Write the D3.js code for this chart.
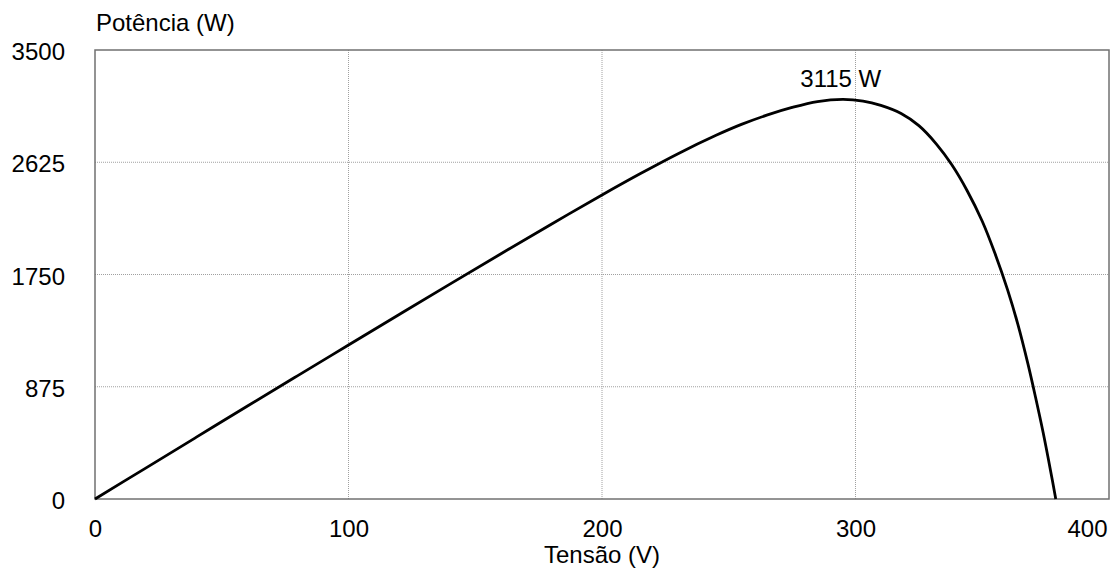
<!DOCTYPE html>
<html>
<head>
<meta charset="utf-8">
<script src="https://cdn.jsdelivr.net/npm/d3@7"></script>
<style>
  html, body { margin: 0; padding: 0; background: #fff; }
  svg { display: block; }
  text { font-family: "Liberation Sans", Arial, sans-serif; fill: #000; }
</style>
</head>
<body>
<svg id="chart" width="1116" height="571"></svg>
<script>
// ---- data ----
const voltage = [0, 20, 40, 60, 80, 100, 120, 140, 160, 180, 200, 215, 230, 245, 255, 265, 275, 285, 295, 303, 310, 318, 325, 332, 338, 344, 350, 355, 360, 364, 368, 371, 374, 377, 379];
const power   = [0, 241, 482, 723, 962, 1200, 1438, 1675, 1910, 2142, 2370, 2535, 2692, 2835, 2920, 2992, 3052, 3098, 3115, 3102, 3068, 3005, 2910, 2765, 2605, 2405, 2165, 1915, 1630, 1365, 1055, 795, 520, 215, 0];
const xTicks = [0, 100, 200, 300, 400];
const yTicks = [0, 875, 1750, 2625, 3500];
const peakLabel = "3115 W";
const peakV = 295, peakP = 3115;
const xTitle = "Tensão (V)";
const yTitle = "Potência (W)";

// ---- layout ----
const svg = d3.select("#chart");
const pLeft = 95, pRight = 1109, pTop = 50, pBottom = 499;
const x = d3.scaleLinear().domain([0, 400]).range([pLeft, pRight]);
const y = d3.scaleLinear().domain([0, 3500]).range([pBottom, pTop]);
const fs = 24;

// gridlines
svg.append("g").selectAll("line").data(xTicks.slice(1, -1)).join("line")
  .attr("x1", d => x(d)).attr("x2", d => x(d))
  .attr("y1", pTop).attr("y2", pBottom)
  .attr("stroke", "#a0a0a0").attr("stroke-width", 1).attr("stroke-dasharray", "1,1");
svg.append("g").selectAll("line").data(yTicks.slice(1, -1)).join("line")
  .attr("y1", d => y(d)).attr("y2", d => y(d))
  .attr("x1", pLeft).attr("x2", pRight)
  .attr("stroke", "#a0a0a0").attr("stroke-width", 1).attr("stroke-dasharray", "1,1");

// frame
svg.append("rect")
  .attr("x", pLeft).attr("y", pTop)
  .attr("width", pRight - pLeft).attr("height", pBottom - pTop)
  .attr("fill", "none").attr("stroke", "#707070").attr("stroke-width", 1.5);

// x axis
const xAxis = svg.append("g").attr("transform", `translate(0,${pBottom})`)
  .call(d3.axisBottom(x).tickValues(xTicks).tickSize(0).tickPadding(0).tickFormat(d3.format("d")));
xAxis.select(".domain").remove();
xAxis.selectAll("text")
  .attr("font-size", fs).attr("font-family", "Liberation Sans, Arial, sans-serif")
  .attr("fill", "#000").attr("dy", null).attr("y", 37.5);
xAxis.selectAll(".tick").filter(d => d === 400).select("text")
  .attr("text-anchor", "end").attr("x", -2);

// y axis
const yAxis = svg.append("g").attr("transform", `translate(${pLeft},0)`)
  .call(d3.axisLeft(y).tickValues(yTicks).tickSize(0).tickPadding(30).tickFormat(d3.format("d")));
yAxis.select(".domain").remove();
yAxis.selectAll("text")
  .attr("font-size", fs).attr("font-family", "Liberation Sans, Arial, sans-serif")
  .attr("fill", "#000").attr("dy", "0.4em");

// curve
const pts = voltage.map((v, i) => [v, power[i]]);
svg.append("path").datum(pts)
  .attr("fill", "none").attr("stroke", "#000").attr("stroke-width", 2.8)
  .attr("stroke-linejoin", "round")
  .attr("d", d3.line().x(d => x(d[0])).y(d => y(d[1])).curve(d3.curveCatmullRom.alpha(0.5)));

// peak label
svg.append("text")
  .attr("x", x(peakV) - 2).attr("y", y(peakP) - 12)
  .attr("text-anchor", "middle").attr("font-size", fs)
  .text(peakLabel);

// titles
svg.append("text").attr("x", 96).attr("y", 31).attr("font-size", fs).text(yTitle);
svg.append("text").attr("x", (pLeft + pRight) / 2).attr("y", 563).attr("text-anchor", "middle")
  .attr("font-size", fs).text(xTitle);
</script>
</body>
</html>
